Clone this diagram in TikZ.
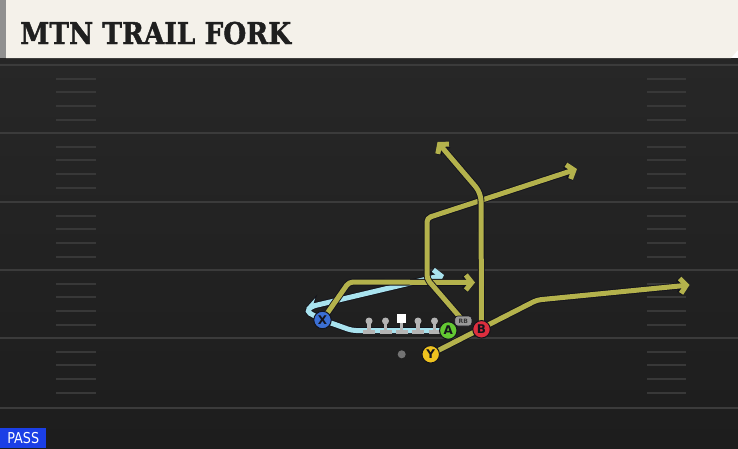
\documentclass[tikz,border=0pt]{standalone}
\usepackage{fontspec}
\setmainfont{DejaVu Sans}
\newfontfamily\titlefont[FakeBold=1.5]{DejaVu Serif Bold}
\usepackage{tikz}
\usetikzlibrary{arrows.meta,backgrounds}
\pgfdeclarelayer{field}
\pgfsetlayers{field,background,main}

\definecolor{fieldtop}{HTML}{272727}
\definecolor{fieldbot}{HTML}{1D1D1D}
\definecolor{yardline}{HTML}{3B3B3B}
\definecolor{hashmark}{HTML}{383838}
\definecolor{header}{HTML}{F4F1EA}
\definecolor{rteyel}{HTML}{B4B24C}
\definecolor{rtecyan}{HTML}{A9E3EF}
\definecolor{outl}{HTML}{14141C}
\definecolor{plblue}{HTML}{3B6FD4}
\definecolor{plgreen}{HTML}{63C832}
\definecolor{plred}{HTML}{DD2E3E}
\definecolor{plyel}{HTML}{EEC21F}
\definecolor{olgrey}{HTML}{B4B4B4}
\definecolor{passblue}{HTML}{1B3FE6}

\begin{document}
\begin{tikzpicture}[
  x=1pt, y=-1pt,
  route/.style={line width=5pt, rounded corners=4pt,
    -{Straight Barb[length=6pt,width=15pt]},
    preaction={draw=outl, line width=6.8pt}},
  player/.style={circle, draw=outl, line width=1pt, minimum size=17.5pt,
    inner sep=0pt, font=\bfseries\fontsize{12}{12}\selectfont, text=outl},
  lineman/.style={circle, fill=olgrey, minimum size=7pt, inner sep=0pt},
]
\useasboundingbox (0,0) rectangle (738,448);

\begin{pgfonlayer}{field}
% field
\shade[top color=fieldtop, bottom color=fieldbot] (0,58) rectangle (738,448);
\fill[black!85] (0,58) rectangle (738,63);
\foreach \y in {65,133,202,270,338,408}
  \draw[yardline, line width=2pt] (0,\y) -- (738,\y);
\foreach \y in {65,133,202,270,338} {
  \foreach \k in {1,...,4} {
    \draw[hashmark, line width=2pt] (56,\y+\k*13.7) -- (96,\y+\k*13.7);
    \draw[hashmark, line width=2pt] (647,\y+\k*13.7) -- (686,\y+\k*13.7);
  }
}
% header
\fill[olgrey!80!black] (0,0) rectangle (6,58);
\fill[header] (6,0) -- (738,0) -- (738,50) -- (731,58) -- (6,58) -- cycle;
\end{pgfonlayer}

\node[anchor=base west, inner sep=0pt, text=black!88]
  (title) at (20,44) {\scalebox{0.88}[1]{\titlefont\fontsize{30}{30}\selectfont MTN TRAIL FORK}};

% line
\foreach \x [count=\i] in {369,385.5,418,434.5} {
  \fill[olgrey] (\x-1.6,320) rectangle (\x+1.6,331);
  \fill[olgrey] (\x-6,330) rectangle (\x+6,334);
  \node[lineman] (ol\i) at (\x,321) {};
}
\fill[olgrey] (400.1,320) rectangle (403.3,331);
\fill[olgrey] (395.7,330) rectangle (407.7,334);
\node[fill=white, minimum size=8.5pt, inner sep=0pt] (ctr) at (401.7,318.3) {};
\node[circle, fill=black!55, minimum size=8pt, inner sep=0pt] (qb) at (401.7,354.3) {};

\node[player, fill=plblue] (X) at (322.5,320) {X};
\node[player, fill=plgreen] (A) at (448.3,330.5) {A};
\node[player, fill=plred] (B) at (481.5,329.3) {B};
\node[player, fill=plyel] (Y) at (430.7,354.3) {Y};
\node[rounded corners=3pt, fill=black!40, draw=outl, line width=0.6pt,
  minimum width=17pt, minimum height=10pt, inner sep=0pt,
  font=\bfseries\fontsize{6}{6}\selectfont, text=black!80] (rb) at (463.3,321) {RB};

\coordinate (xend) at (475,282.5);
\coordinate (aend) at (444,275);
\coordinate (rbend) at (577,169);
\coordinate (bend) at (437.5,142);
\coordinate (yend) at (689.5,285);

\begin{scope}[on background layer]
\draw[route, rtecyan] (A.center) -- (352,330.5) -- (X.center) -- (306.5,311.5)
  -- (311,306.5) -- (aend);
\draw[route, rteyel] (X.center) -- (349,282) -- (xend);
\draw[route, rteyel] (rb.center) -- (427,279) -- (427,218) -- (rbend);
\draw[route, rteyel, rounded corners=8pt] (B.center) -- (481,193) -- (bend);
\draw[route, rteyel] (Y.center) -- (537,300) -- (yend);
\end{scope}

\node[fill=passblue, text=white, anchor=south west, minimum width=46pt,
  minimum height=20pt, inner sep=0pt]
  (play) at (0,448) {\scalebox{0.85}[1]{\fontsize{15}{15}\selectfont PASS}};
\end{tikzpicture}
\end{document}
